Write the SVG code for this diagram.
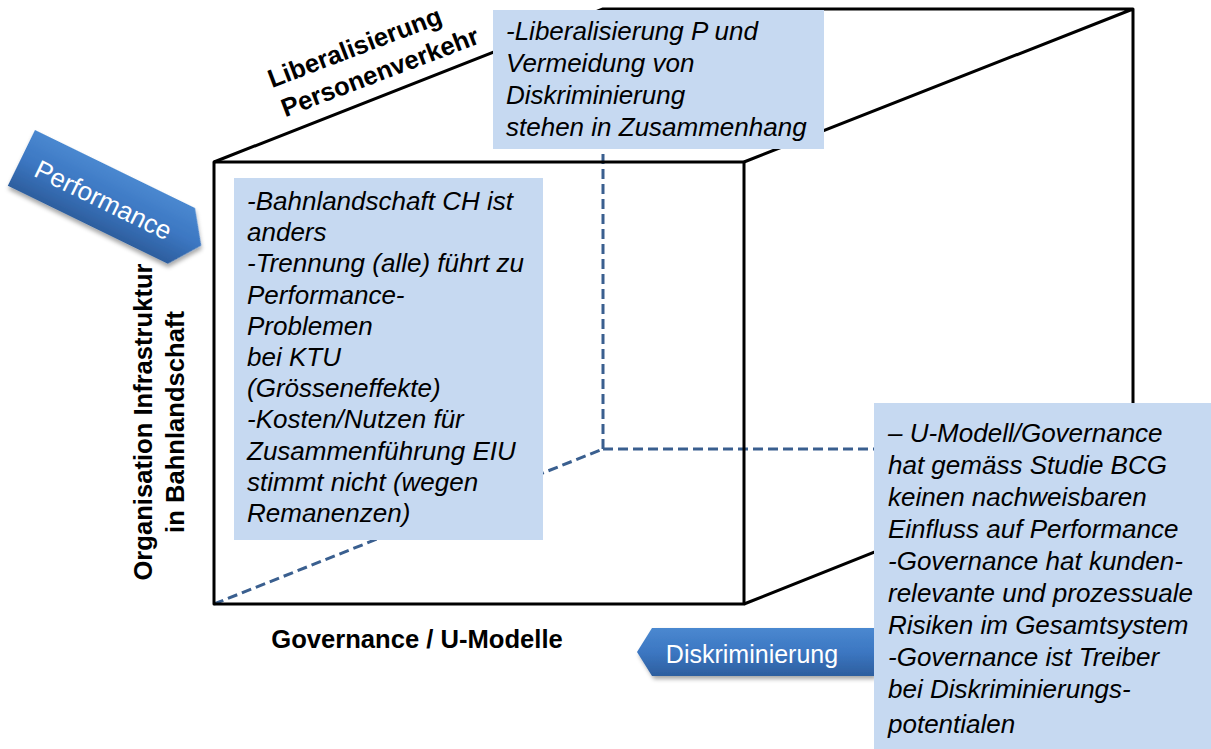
<svg xmlns="http://www.w3.org/2000/svg" width="1211" height="749" viewBox="0 0 1211 749">
<defs>
<style>
.edge{fill:none;stroke:#000;stroke-width:3;stroke-linejoin:round}
.hidden{fill:none;stroke:#3A5F8F;stroke-width:3;stroke-dasharray:10,5}
.note{fill:#C6D9F1}
.nt{font-family:"Liberation Sans",Arial,sans-serif;font-size:26px;font-style:italic;fill:#000}
.lbl{font-family:"Liberation Sans",Arial,sans-serif;font-size:25.6px;font-weight:bold;fill:#000}
.tag{font-family:"Liberation Sans",Arial,sans-serif;fill:#fff}
</style>
<linearGradient id="blue" x1="0" y1="0" x2="0" y2="1">
<stop offset="0" stop-color="#4A88D0"/>
<stop offset="0.5" stop-color="#3C77C2"/>
<stop offset="1" stop-color="#2D5E9E"/>
</linearGradient>
<filter id="sh" x="-20%" y="-30%" width="140%" height="170%">
<feDropShadow dx="2" dy="3" stdDeviation="2" flood-color="#000" flood-opacity="0.35"/>
</filter>
</defs>

<g id="connectors">
<path class="hidden" d="M214,604 L603,449 M603,449 L603,9 M603,449 L1133,449"/>
<path class="edge" d="M214,162 L603,9 L1133,9 L1133,449 M744,162 L1133,9 M744,604 L1133,449"/>
<rect class="edge" x="214" y="162" width="530" height="442"/>
</g>

<g id="label-liberalisierung" transform="translate(272,88) rotate(-20.8)">
<text class="lbl" x="0" y="0">Liberalisierung</text>
<text class="lbl" x="2" y="32">Personenverkehr</text>
</g>

<g id="label-organisation" transform="translate(152,422) rotate(-90)">
<text class="lbl" x="0" y="0" text-anchor="middle">Organisation Infrastruktur</text>
<text class="lbl" x="0" y="32" text-anchor="middle">in Bahnlandschaft</text>
</g>

<g id="label-governance">
<text class="lbl" x="417" y="648" text-anchor="middle">Governance / U-Modelle</text>
</g>

<g id="arrow-performance" transform="translate(35,130) rotate(26)">
<polygon points="0,0 178,0 200,31 178,62 0,62" fill="url(#blue)" filter="url(#sh)"/>
<text class="tag" x="92" y="42" font-size="26" text-anchor="middle">Performance</text>
</g>

<g id="arrow-diskriminierung">
<polygon points="652,628 874,628 874,676 652,676 637,652" fill="url(#blue)" filter="url(#sh)"/>
<text class="tag" x="752" y="663" font-size="25" text-anchor="middle">Diskriminierung</text>
</g>

<g id="note-front">
<rect class="note" x="234" y="178" width="309" height="362"/>
<text class="nt">
<tspan x="247" y="210">-Bahnlandschaft CH ist</tspan>
<tspan x="247" y="241">anders</tspan>
<tspan x="247" y="272">-Trennung (alle) führt zu</tspan>
<tspan x="247" y="304">Performance-</tspan>
<tspan x="247" y="335">Problemen</tspan>
<tspan x="247" y="366">bei KTU</tspan>
<tspan x="247" y="397">(Grösseneffekte)</tspan>
<tspan x="247" y="428">-Kosten/Nutzen für</tspan>
<tspan x="247" y="460">Zusammenführung EIU</tspan>
<tspan x="247" y="491">stimmt nicht (wegen</tspan>
<tspan x="247" y="522">Remanenzen)</tspan>
</text>
</g>

<g id="note-top">
<rect class="note" x="493" y="10" width="331" height="139"/>
<text class="nt">
<tspan x="506" y="40">-Liberalisierung P und</tspan>
<tspan x="506" y="72">Vermeidung von</tspan>
<tspan x="506" y="104">Diskriminierung</tspan>
<tspan x="506" y="136">stehen in Zusammenhang</tspan>
</text>
</g>

<g id="note-right">
<rect class="note" x="874" y="403" width="337" height="346"/>
<text class="nt">
<tspan x="888" y="442">– U-Modell/Governance</tspan>
<tspan x="888" y="474">hat gemäss Studie BCG</tspan>
<tspan x="888" y="506">keinen nachweisbaren</tspan>
<tspan x="888" y="538">Einfluss auf Performance</tspan>
<tspan x="888" y="570">-Governance hat kunden-</tspan>
<tspan x="888" y="602">relevante und prozessuale</tspan>
<tspan x="888" y="634">Risiken im Gesamtsystem</tspan>
<tspan x="888" y="666">-Governance ist Treiber</tspan>
<tspan x="888" y="698">bei Diskriminierungs-</tspan>
<tspan x="888" y="733">potentialen</tspan>
</text>
</g>
</svg>
